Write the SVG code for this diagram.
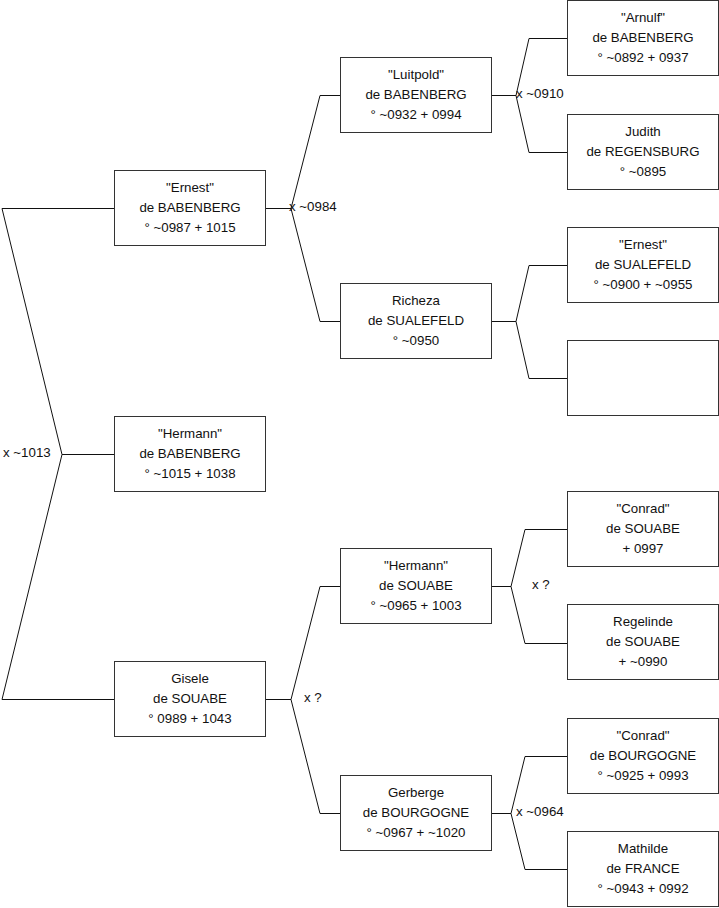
<svg xmlns="http://www.w3.org/2000/svg" width="719" height="908" viewBox="0 0 719 908">
<style>
.box{fill:#fff;stroke:#333;stroke-width:1}
.con{fill:none;stroke:#111;stroke-width:1}
text{font-family:"Liberation Sans",Arial,sans-serif;font-size:13.3px;fill:#111}
.c{text-anchor:middle}
</style>
<rect width="719" height="908" fill="#fff"/>
<g id="connectors" class="con">
<path d="M114,208.5 H2 L62,454.5 L2,699.5 H114 M62,454.5 H114"/>
<path d="M265,208.5 H291 M340,95.5 H320 L291,208.5 L320,321.5 H340"/>
<path d="M265,699.5 H291 M340,586.5 H320 L291,699.5 L320,813.5 H340"/>
<path d="M491,95.5 H516 M567,38.5 H529 L516,95.5 L529,152.5 H567"/>
<path d="M491,321.5 H516 M567,265.5 H529 L516,321.5 L529,378.5 H567"/>
<path d="M491,586.5 H511 M567,529.5 H525 L511,586.5 L525,643.5 H567"/>
<path d="M491,813.5 H511 M567,756.5 H525 L511,813.5 L525,869.5 H567"/>
</g>
<g id="labels">
<text x="3" y="456.5">x ~1013</text>
<text x="289" y="211">x ~0984</text>
<text x="304" y="702">x ?</text>
<text x="516" y="97.5">x ~0910</text>
<text x="532" y="588.5">x ?</text>
<text x="516" y="815.5">x ~0964</text>
</g>
<g id="ernest_babenberg">
<rect class="box" x="114.5" y="170.5" width="151" height="75"/>
<text class="c" x="190" y="192">"Ernest"</text>
<text class="c" x="190" y="212">de BABENBERG</text>
<text class="c" x="190" y="231.5">° ~0987 + 1015</text>
</g>
<g id="hermann_babenberg">
<rect class="box" x="114.5" y="416.5" width="151" height="75"/>
<text class="c" x="190" y="438">"Hermann"</text>
<text class="c" x="190" y="458">de BABENBERG</text>
<text class="c" x="190" y="477.5">° ~1015 + 1038</text>
</g>
<g id="gisele_souabe">
<rect class="box" x="114.5" y="661.5" width="151" height="75"/>
<text class="c" x="190" y="683">Gisele</text>
<text class="c" x="190" y="703">de SOUABE</text>
<text class="c" x="190" y="722.5">° 0989 + 1043</text>
</g>
<g id="luitpold_babenberg">
<rect class="box" x="340.5" y="57.5" width="151" height="75"/>
<text class="c" x="416" y="79">"Luitpold"</text>
<text class="c" x="416" y="99">de BABENBERG</text>
<text class="c" x="416" y="118.5">° ~0932 + 0994</text>
</g>
<g id="richeza_sualefeld">
<rect class="box" x="340.5" y="283.5" width="151" height="75"/>
<text class="c" x="416" y="305">Richeza</text>
<text class="c" x="416" y="325">de SUALEFELD</text>
<text class="c" x="416" y="344.5">° ~0950</text>
</g>
<g id="hermann_souabe">
<rect class="box" x="340.5" y="548.5" width="151" height="75"/>
<text class="c" x="416" y="570">"Hermann"</text>
<text class="c" x="416" y="590">de SOUABE</text>
<text class="c" x="416" y="609.5">° ~0965 + 1003</text>
</g>
<g id="gerberge_bourgogne">
<rect class="box" x="340.5" y="775.5" width="151" height="75"/>
<text class="c" x="416" y="797">Gerberge</text>
<text class="c" x="416" y="817">de BOURGOGNE</text>
<text class="c" x="416" y="836.5">° ~0967 + ~1020</text>
</g>
<g id="arnulf_babenberg">
<rect class="box" x="567.5" y="0.5" width="151" height="75"/>
<text class="c" x="643" y="22">"Arnulf"</text>
<text class="c" x="643" y="42">de BABENBERG</text>
<text class="c" x="643" y="61.5">° ~0892 + 0937</text>
</g>
<g id="judith_regensburg">
<rect class="box" x="567.5" y="114.5" width="151" height="75"/>
<text class="c" x="643" y="136">Judith</text>
<text class="c" x="643" y="156">de REGENSBURG</text>
<text class="c" x="643" y="175.5">° ~0895</text>
</g>
<g id="ernest_sualefeld">
<rect class="box" x="567.5" y="227.5" width="151" height="75"/>
<text class="c" x="643" y="249">"Ernest"</text>
<text class="c" x="643" y="269">de SUALEFELD</text>
<text class="c" x="643" y="288.5">° ~0900 + ~0955</text>
</g>
<g id="unknown">
<rect class="box" x="567.5" y="340.5" width="151" height="75"/>
</g>
<g id="conrad_souabe">
<rect class="box" x="567.5" y="491.5" width="151" height="75"/>
<text class="c" x="643" y="513">"Conrad"</text>
<text class="c" x="643" y="533">de SOUABE</text>
<text class="c" x="643" y="552.5">+ 0997</text>
</g>
<g id="regelinde_souabe">
<rect class="box" x="567.5" y="604.5" width="151" height="75"/>
<text class="c" x="643" y="626">Regelinde</text>
<text class="c" x="643" y="646">de SOUABE</text>
<text class="c" x="643" y="665.5">+ ~0990</text>
</g>
<g id="conrad_bourgogne">
<rect class="box" x="567.5" y="718.5" width="151" height="75"/>
<text class="c" x="643" y="740">"Conrad"</text>
<text class="c" x="643" y="760">de BOURGOGNE</text>
<text class="c" x="643" y="779.5">° ~0925 + 0993</text>
</g>
<g id="mathilde_france">
<rect class="box" x="567.5" y="831.5" width="151" height="75"/>
<text class="c" x="643" y="853">Mathilde</text>
<text class="c" x="643" y="873">de FRANCE</text>
<text class="c" x="643" y="892.5">° ~0943 + 0992</text>
</g>
</svg>
